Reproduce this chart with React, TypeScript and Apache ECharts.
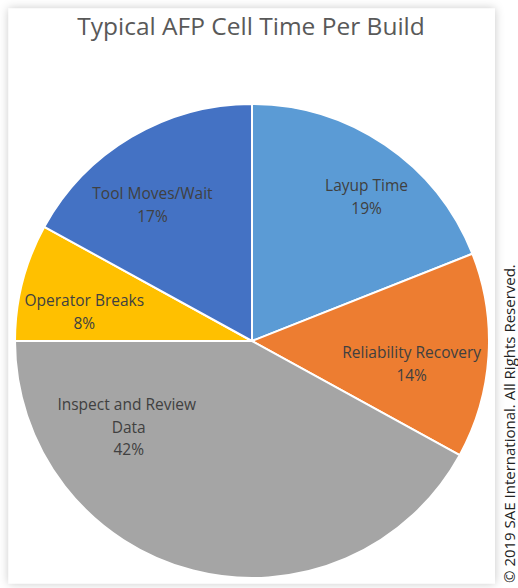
import React, { useEffect, useRef } from "react";
import * as echarts from "echarts";

const titleText = "Typical AFP Cell Time Per Build";
const categories = ["Layup Time", "Reliability Recovery", "Inspect and Review Data", "Operator Breaks", "Tool Moves/Wait"];
const values = [19, 14, 42, 8, 17];
const colors = ["#5B9BD5", "#ED7D31", "#A5A5A5", "#FFC000", "#4472C4"];
const copyright = "\u00A9 2019 SAE International. All Rights Reserved.";

export default function App() {
  const ref = useRef<HTMLDivElement>(null);
  useEffect(() => {
    if (!ref.current) return;
    const chart = echarts.init(ref.current, undefined, { renderer: "svg" });
    const font = "'Open Sans', 'Noto Sans', sans-serif";
    // label nudges (px) to mimic the original's best-fit label placement
    const labelOffsets: number[][] = [
      [19, -4],
      [-10, 12],
      [-81, -79],
      [-3, 13],
      [-13, 10],
    ];
    chart.setOption({
      animation: false,
      backgroundColor: "#ffffff",
      graphic: [
        {
          type: "rect",
          shape: { x: 8.5, y: 8.5, width: 486.5, height: 575 },
          style: { fill: "#ffffff", shadowBlur: 10, shadowColor: "rgba(0,0,0,0.22)" },
          z: -10,
        },
        {
          type: "text",
          x: 508.5,
          y: 583,
          rotation: Math.PI / 2,
          style: {
            text: copyright,
            font: "15px 'Open Sans', 'Noto Sans', sans-serif",
            fill: "#222222",
            verticalAlign: "middle",
            align: "left",
          },
        },
      ],
      title: {
        text: titleText,
        left: 246,
        textAlign: "center",
        top: 8,
        textStyle: { fontFamily: font, fontSize: 24.5, fontWeight: "normal", color: "#595959" },
      },
      series: [
        {
          type: "pie",
          center: [252, 341],
          radius: 237,
          startAngle: 90,
          clockwise: true,
          silent: true,
          label: { show: false },
          labelLine: { show: false },
          itemStyle: { borderColor: "#ffffff", borderWidth: 2 },
          data: categories.map((c, i) => ({ name: c, value: values[i], itemStyle: { color: colors[i] } })),
        },
        {
          type: "pie",
          center: [252, 341],
          radius: [97, 237],
          startAngle: 90,
          clockwise: true,
          silent: true,
          itemStyle: { color: "rgba(0,0,0,0)" },
          labelLine: { show: false },
          label: {
            show: true,
            position: "inside",
            rotate: 0,
            formatter: "{b}\n{d}%",
            fontFamily: font,
            fontSize: 15.5,
            lineHeight: 22.5,
            color: "#404040",
            width: 160,
            overflow: "break",
          },
          data: categories.map((c, i) => ({
            name: c,
            value: values[i],
            label: { offset: labelOffsets[i] },
          })),
        },
      ],
    });
    return () => chart.dispose();
  }, []);
  return <div ref={ref} style={{ position: "fixed", left: 0, top: 0, width: 518, height: 588 }} />;
}
